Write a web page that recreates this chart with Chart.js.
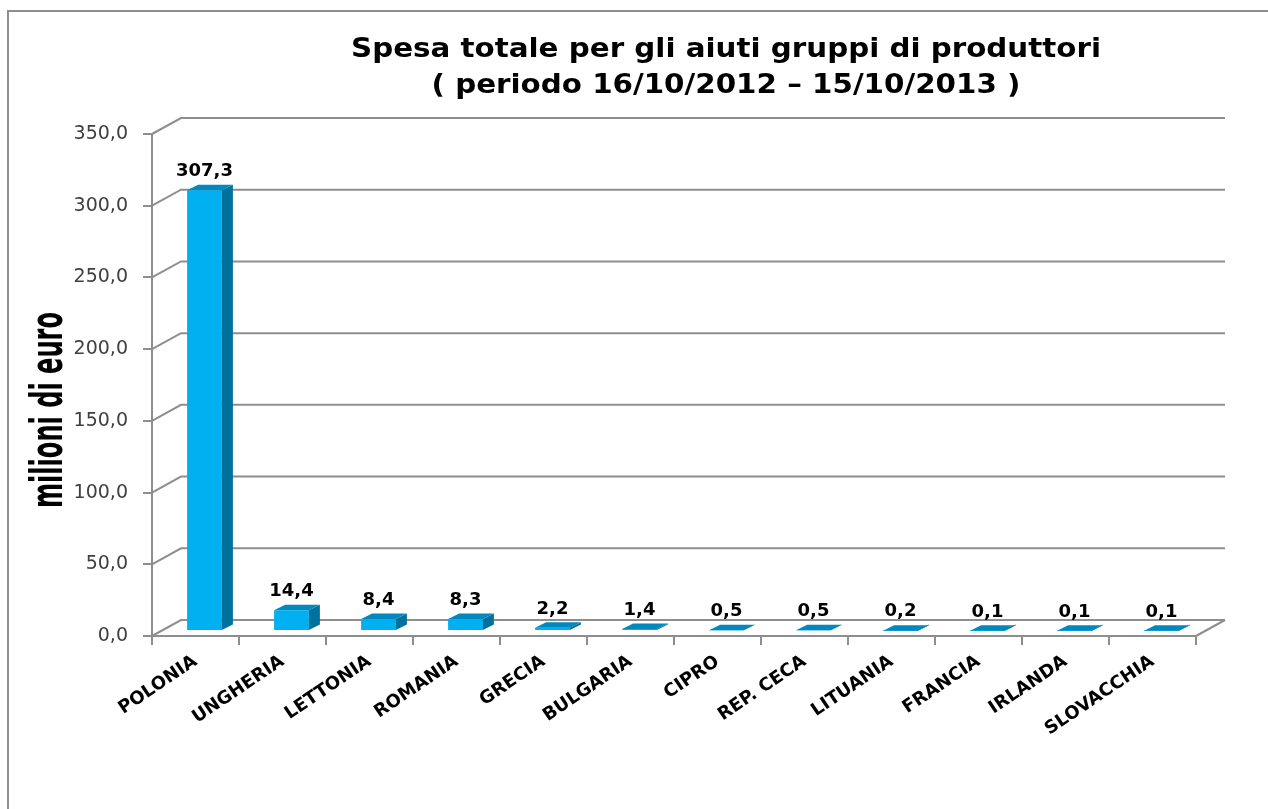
<!DOCTYPE html>
<html lang="it">
<head>
<meta charset="utf-8">
<title>Spesa totale per gli aiuti gruppi di produttori</title>
<script src="https://cdn.jsdelivr.net/npm/chart.js@4.4.1/dist/chart.umd.min.js"></script>
<style>
  html, body { margin: 0; padding: 0; background: #fff; }
  canvas { display: block; }
</style>
</head>
<body>
<canvas id="aiutiChart" width="1268" height="809"></canvas>
<script>
const paesi = ['POLONIA', 'UNGHERIA', 'LETTONIA', 'ROMANIA', 'GRECIA', 'BULGARIA', 'CIPRO', 'REP. CECA', 'LITUANIA', 'FRANCIA', 'IRLANDA', 'SLOVACCHIA'];
const spesa = [307.3, 14.4, 8.4, 8.3, 2.2, 1.4, 0.5, 0.5, 0.2, 0.1, 0.1, 0.1];
const titolo = ['Spesa totale per gli aiuti gruppi di produttori', '( periodo 16/10/2012 – 15/10/2013 )'];
const titoloY = 'milioni di euro';
const yMin = 0, yMax = 350, yPasso = 50;

const FONT = '"DejaVu Sans", sans-serif';
const GRIGIO = '#8e8e8e';
// offsets of the fake 3D box (px)
const WALL = { dx: 29, dy: 16 };    // back wall vs front plane
const PLANE = { dx: 9, dy: 5 };     // plane where the columns stand
const DEPTH = { dx: 11, dy: 5.5 };  // thickness of a column

function virgola(v) {
  return Number(v).toFixed(1).replace('.', ',');
}

const box3d = {
  id: 'box3d',
  beforeDraw(chart) {
    const { ctx } = chart;
    ctx.save();
    ctx.strokeStyle = GRIGIO;
    ctx.lineWidth = 2;
    ctx.strokeRect(8, 11, 1400, 1000);

    // title (the original text is drawn a bit wider than the font)
    ctx.fillStyle = '#000';
    ctx.textAlign = 'center';
    ctx.textBaseline = 'middle';
    ctx.font = 'bold 26px ' + FONT;
    const sx = 750 / ctx.measureText(titolo[0]).width;
    ctx.save();
    ctx.translate(726, 0);
    ctx.scale(sx, 1);
    ctx.fillText(titolo[0], 0, 50);
    ctx.fillText(titolo[1], 0, 86);
    ctx.restore();

    // y axis title, tall and narrow
    ctx.font = 'bold 44px ' + FONT;
    ctx.textBaseline = 'alphabetic';
    const sy = 196 / ctx.measureText(titoloY).width;
    ctx.translate(62, 410);
    ctx.rotate(-Math.PI / 2);
    ctx.scale(sy, 1);
    ctx.fillText(titoloY, 0, 0);
    ctx.restore();
  },
  beforeDatasetsDraw(chart) {
    const { ctx, chartArea: a, scales: { y } } = chart;
    ctx.save();
    ctx.strokeStyle = GRIGIO;
    ctx.lineWidth = 2;
    ctx.beginPath();
    y.ticks.forEach(t => {
      const py = y.getPixelForValue(t.value);
      ctx.moveTo(a.left, py);
      ctx.lineTo(a.left + WALL.dx, py - WALL.dy);
      ctx.lineTo(a.right + WALL.dx, py - WALL.dy);
    });
    // right edge of the floor
    ctx.moveTo(a.right, a.bottom);
    ctx.lineTo(a.right + WALL.dx, a.bottom - WALL.dy);
    ctx.stroke();
    ctx.restore();

    // columns sit a bit behind the front plane
    ctx.save();
    ctx.translate(PLANE.dx, -PLANE.dy);
  },
  afterDatasetsDraw(chart) {
    const { ctx } = chart;
    const meta = chart.getDatasetMeta(0);
    meta.data.forEach((bar, i) => {
      const { x, y, base, width } = bar.getProps(['x', 'y', 'base', 'width'], true);
      const l = x - width / 2, r = x + width / 2;

      // side face
      ctx.fillStyle = '#00719c';
      ctx.beginPath();
      ctx.moveTo(r, y);
      ctx.lineTo(r + DEPTH.dx, y - DEPTH.dy);
      ctx.lineTo(r + DEPTH.dx, base - DEPTH.dy);
      ctx.lineTo(r, base);
      ctx.closePath();
      ctx.fill();

      // top face
      ctx.fillStyle = '#0088bf';
      ctx.beginPath();
      ctx.moveTo(l, y);
      ctx.lineTo(l + DEPTH.dx, y - DEPTH.dy);
      ctx.lineTo(r + DEPTH.dx, y - DEPTH.dy);
      ctx.lineTo(r, y);
      ctx.closePath();
      ctx.fill();

      // value label
      ctx.fillStyle = '#000';
      ctx.font = 'bold 18px ' + FONT;
      ctx.textAlign = 'center';
      ctx.textBaseline = 'middle';
      ctx.fillText(virgola(spesa[i]), x, y - 19);
    });
    ctx.restore();
  }
};

new Chart(document.getElementById('aiutiChart'), {
  type: 'bar',
  data: {
    labels: paesi,
    datasets: [{
      data: spesa,
      backgroundColor: '#00b0f0',
      barPercentage: 0.4,
      categoryPercentage: 1
    }]
  },
  options: {
    responsive: false,
    animation: false,
    layout: { padding: { left: 0, right: 72, top: 134, bottom: 0 } },
    plugins: {
      legend: { display: false },
      tooltip: { enabled: false },
      title: { display: false }
    },
    scales: {
      x: {
        grid: { drawOnChartArea: false, drawTicks: true, tickLength: 9, color: GRIGIO, lineWidth: 2, offset: true },
        border: { display: true, color: GRIGIO, width: 2 },
        ticks: {
          color: '#000',
          font: { family: FONT, size: 18, weight: 'bold' },
          minRotation: 34, maxRotation: 34,
          padding: 6,
          autoSkip: false
        },
        afterFit(s) { s.height = 173; }
      },
      y: {
        min: yMin, max: yMax,
        ticks: {
          stepSize: yPasso,
          callback: v => virgola(v),
          color: '#404040',
          font: { family: FONT, size: 19 },
          padding: 15
        },
        grid: { drawOnChartArea: false, tickLength: 9, color: GRIGIO, lineWidth: 2 },
        border: { color: GRIGIO, width: 2 },
        afterFit(s) { s.width = 152; }
      }
    }
  },
  plugins: [box3d]
});
</script>
</body>
</html>
